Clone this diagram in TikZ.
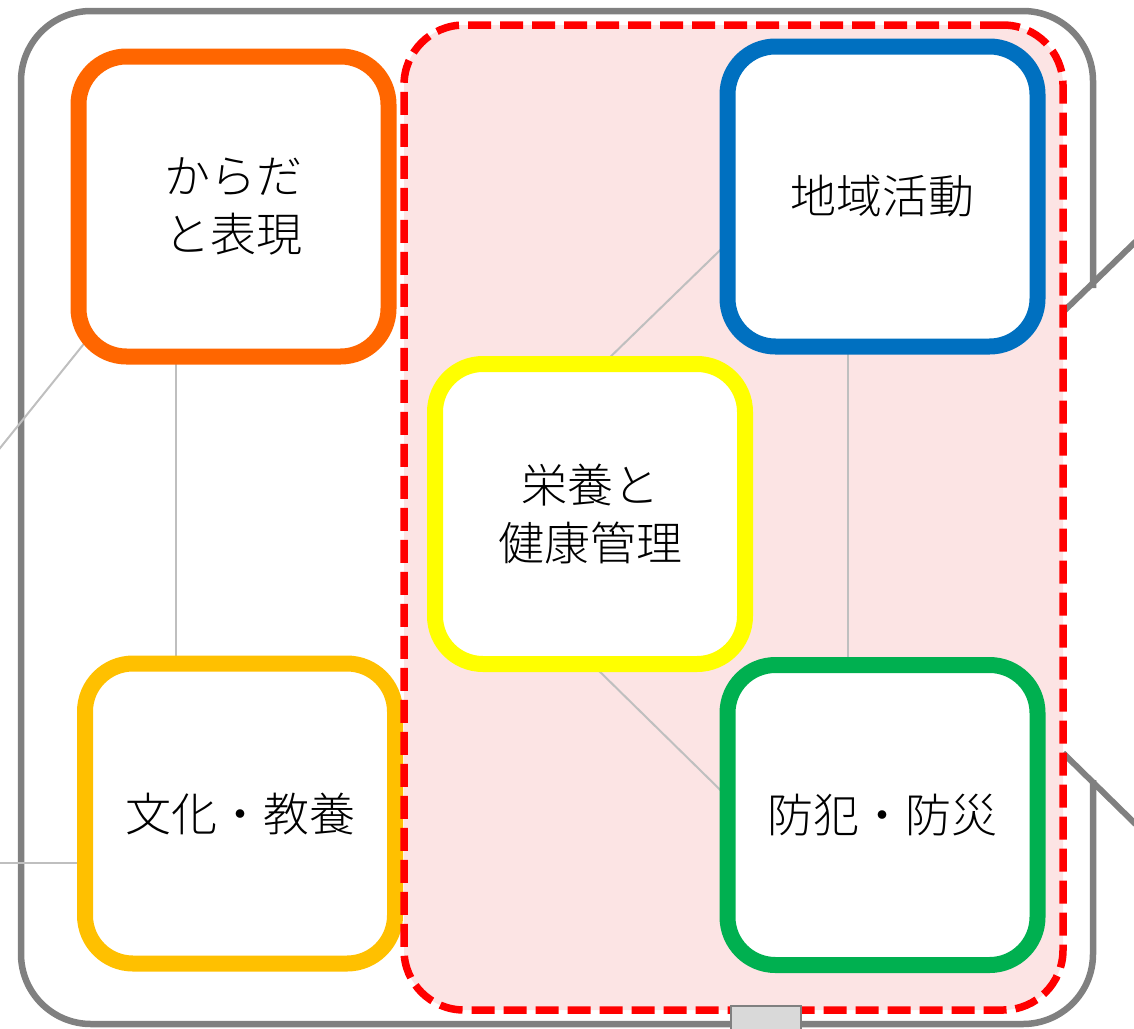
\documentclass[tikz,border=0pt]{standalone}
\usepackage{fontspec}
\usepackage{tikz}
\IfFontExistsTF{Noto Sans CJK JP Light}
  {\newfontfamily\jp{Noto Sans CJK JP Light}}
  {\newfontfamily\jp{Noto Sans CJK JP}}
\pgfdeclarelayer{bg}
\pgfdeclarelayer{mid}
\pgfsetlayers{bg,mid,main}
\definecolor{cOrange}{RGB}{255,102,0}
\definecolor{cGold}{RGB}{255,192,0}
\definecolor{cYellow}{RGB}{255,255,0}
\definecolor{cBlue}{RGB}{0,112,192}
\definecolor{cGreen}{RGB}{0,176,80}
\definecolor{cFrame}{RGB}{128,128,128}
\definecolor{cLine}{RGB}{191,191,191}
\definecolor{cTab}{RGB}{217,217,217}
\definecolor{cPink}{RGB}{252,228,228}

\begin{document}
\begin{tikzpicture}
[x=1pt,y=-1pt,
 bx/.style={draw,line width=16pt,fill=white,rounded corners=48pt,
   minimum width=310pt,minimum height=300pt,inner sep=0pt,outer sep=0pt,
   align=center,font=\jp\fontsize{46pt}{58pt}\selectfont},
 core/.style={draw=red,line width=7.5pt,dash pattern=on 23pt off 9pt,
   rounded corners=60pt,minimum width=659pt,minimum height=985pt,
   inner sep=0pt,outer sep=0pt},
 ln/.style={draw=cLine,line width=2pt},
 lk/.style={draw=cFrame,line width=6pt},
 tab/.style={draw=cFrame,fill=cTab,line width=2pt,minimum width=70pt,minimum height=40pt}]
\useasboundingbox (0,0) rectangle (1134,1028);

\node[bx,draw=cOrange] (kara) at (233.5,206.5) {からだ\\と表現};
\node[bx,draw=cGold] (bunka) at (240,813.5) {文化・教養};
\node[bx,draw=cBlue] (chiiki) at (882.5,196.5) {地域活動};
\node[bx,draw=cYellow] (eiyo) at (590,514) {栄養と\\健康管理};
\node[bx,draw=cGreen] (bohan) at (882.5,815) {防犯・防災};
\node[core] (core) at (733.5,517.5) {};

\coordinate (offA) at (-12,463);
\coordinate (offB) at (-10,863);
\coordinate (offC) at (1160,218);
\coordinate (offD) at (1160,848);

\begin{pgfonlayer}{bg}
\draw[cFrame,line width=6.5pt,rounded corners=70pt]
  (1093,288) -- (1093,11) -- (21,11) -- (21,1024) -- (1093,1024) -- (1093,780);
\fill[cPink,rounded corners=60pt] (core.north west) rectangle (core.south east);
\end{pgfonlayer}

\begin{pgfonlayer}{mid}
\draw[ln] (offA) -- ([shift={(25pt,37pt)}]kara.south west);
\draw[ln] ([xshift=-58pt]kara.south) -- ([xshift=-58pt]kara.south |- bunka.north);
\draw[ln] (offB) -- ([yshift=-49.5pt]bunka.west);
\draw[ln] ([xshift=13pt]eiyo.north) -- ([yshift=-46.5pt]chiiki.west);
\draw[ln] ([xshift=-34.5pt]chiiki.south) -- ([xshift=-34.5pt]chiiki.south |- bohan.north);
\draw[ln] ([xshift=2pt]eiyo.south) -- ([yshift=18pt]bohan.west);
\draw[lk] ([yshift=205.5pt]core.east) -- (offC);
\draw[lk] ([yshift=-235.5pt]core.east) -- (offD);
\end{pgfonlayer}

\node[tab] (tab) at (766,1026) {};

\end{tikzpicture}
\end{document}
